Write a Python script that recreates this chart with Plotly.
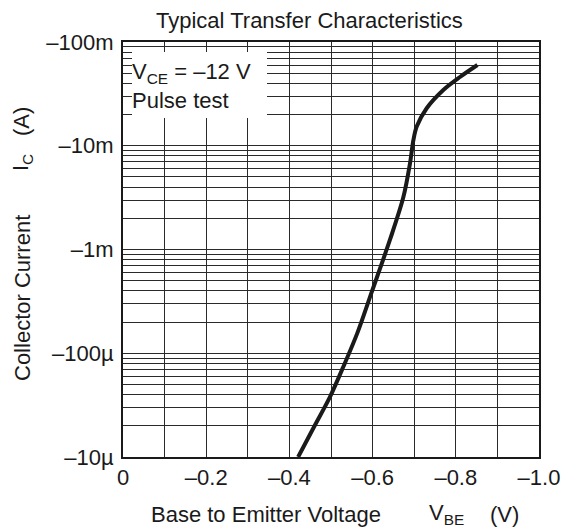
import plotly.graph_objects as go

# Data
vbe = [-0.421, -0.46, -0.4976, -0.5296, -0.5637, -0.598, -0.642, -0.674,
       -0.69, -0.698, -0.706, -0.73, -0.77, -0.81, -0.852]
ic = [-10e-6, -19.8e-6, -38e-6, -74e-6, -158e-6, -390e-6, -1.25e-3, -3.2e-3,
      -6.8e-3, -11.3e-3, -15.3e-3, -23e-3, -34.5e-3, -46e-3, -60e-3]

x_ticks = [0, -0.2, -0.4, -0.6, -0.8, -1.0]
x_ticktext = ["0", "–0.2", "–0.4", "–0.6", "–0.8", "–1.0"]
y_ticks = [1e-5, 1e-4, 1e-3, 1e-2, 1e-1]
y_ticktext = ["–10µ", "–100µ", "–1m", "–10m", "–100m"]

W, H = 562, 531
L, R, T, B = 123, 539, 42, 457

minor_y = [k * 10 ** e for e in range(-5, -1) for k in range(2, 10)]
minor_x = [-0.1, -0.3, -0.5, -0.7, -0.9]

FONT = "Liberation Sans, Arial, Helvetica, sans-serif"
GRID = "#2a2a2a"
FS = 22

fig = go.Figure()
fig.add_trace(go.Scatter(
    x=vbe, y=[-v for v in ic], mode="lines",
    line=dict(color="#1a1a1a", width=4, shape="spline", smoothing=0.9),
    showlegend=False, hoverinfo="skip"))

def px(xp):
    return (xp - L) / (R - L)

def py(yp):
    return (B - yp) / (B - T)

def ann(text, x, y, size=FS, xanchor="center", angle=0):
    return dict(text=text, xref="paper", yref="paper", x=px(x), y=py(y), showarrow=False,
                font=dict(size=size), xanchor=xanchor, yanchor="middle", textangle=angle)

fig.update_layout(
    width=W, height=H,
    margin=dict(l=L, r=W - R, t=T, b=H - B),
    paper_bgcolor="white", plot_bgcolor="white",
    font=dict(family=FONT, size=FS, color="#1a1a1a"),
    xaxis=dict(range=[0, -1.0], tickvals=x_ticks, ticktext=x_ticktext,
               showgrid=True, gridcolor=GRID, gridwidth=1.2,
               minor=dict(tickvals=minor_x, showgrid=True, gridcolor=GRID, gridwidth=1.2),
               showline=True, linecolor="#1a1a1a", linewidth=2, mirror=True,
               zeroline=False, ticks="", ticklabelstandoff=0, automargin=False,
               tickfont=dict(size=FS)),
    yaxis=dict(type="log", range=[-5, -1], tickvals=y_ticks, ticktext=y_ticktext,
               showgrid=True, gridcolor=GRID, gridwidth=1.2,
               minor=dict(tickvals=minor_y, showgrid=True, gridcolor=GRID, gridwidth=1.2),
               showline=True, linecolor="#1a1a1a", linewidth=2, mirror=True,
               zeroline=False, ticks="", ticklabelstandoff=3, automargin=False,
               tickfont=dict(size=FS)),
    shapes=[dict(type="rect", xref="paper", yref="paper",
                 x0=px(132), x1=px(267), y0=py(118), y1=py(52),
                 fillcolor="white", line=dict(width=0), layer="above")],
    annotations=[
        ann("Typical Transfer Characteristics", 309, 21),
        ann("V<sub>CE</sub> = –12 V", 130, 73, xanchor="left"),
        ann("Pulse test", 130, 100, xanchor="left"),
        ann("Base to Emitter Voltage", 266, 514),
        ann("V<sub>BE</sub>", 446, 514),
        ann("(V)", 504, 514),
        ann("Collector Current", 22, 298, angle=-90),
        ann("I<sub>C</sub>", 22, 163, angle=-90),
        ann("(A)", 22, 122, angle=-90),
    ],
)

fig.write_html("out.html", config={"displayModeBar": False},
               post_script="document.body.style.margin='0';document.body.style.padding='0';")
